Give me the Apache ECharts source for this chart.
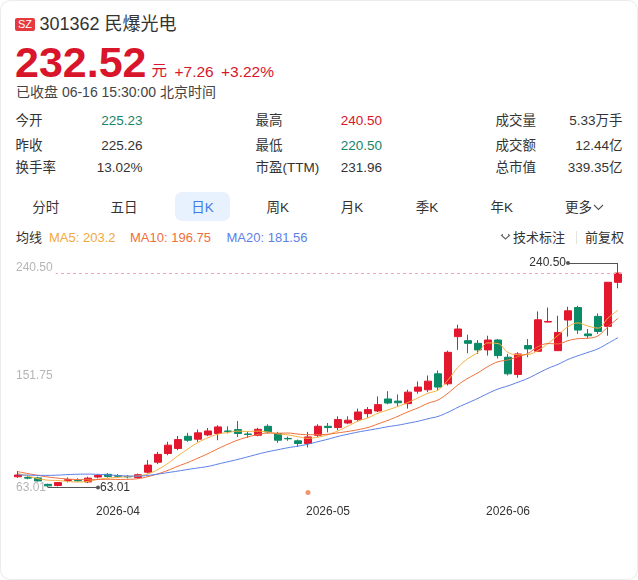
<!DOCTYPE html>
<html lang="zh-CN">
<head>
<meta charset="utf-8">
<title>301362 民爆光电 日K</title>
<script src="https://cdn.jsdelivr.net/npm/echarts@6/dist/echarts.min.js"></script>
<style>
  html, body { margin: 0; padding: 0; background: #fff; }
  body { font-family: "Liberation Sans", Arial, "Noto Sans CJK SC", sans-serif; color: #333; }
  #card { position: relative; width: 638px; height: 580px; border-radius: 10px; box-shadow: inset 0 0 0 1px #ececec; overflow: hidden; }
  .t { position: absolute; white-space: nowrap; line-height: 1; }
  .r { text-align: right; }
  .red { color: #d8152b; }
  .green { color: #17856a; }
  .tab { position: absolute; top: 200.7px; width: 77px; text-align: center; font-size: 13.5px; line-height: 1; }
  #chart { position: absolute; left: 0; top: 250px; width: 638px; height: 290px; }
</style>
</head>
<body>
<div id="card">
  <!-- 头部 -->
  <div style="position:absolute;left:15px;top:18px;width:20px;height:13px;background:#e5393f;border-radius:2px;color:#fff;font-size:11px;line-height:13px;text-align:center;">SZ</div>
  <div class="t" style="left:39.5px;top:15.3px;font-size:18px;color:#333;">301362 民爆光电</div>
  <div class="t red" style="left:15px;top:40.9px;font-size:43px;font-weight:bold;">232.52</div>
  <div class="t red" style="left:151.5px;top:63.4px;font-size:15.5px;">元</div>
  <div class="t red" style="left:174.5px;top:63.6px;font-size:15.5px;">+7.26</div>
  <div class="t red" style="left:221px;top:63.6px;font-size:15.5px;">+3.22%</div>
  <div class="t" style="left:16px;top:85.2px;font-size:14px;color:#444;">已收盘 06-16 15:30:00 北京时间</div>

  <!-- 行情表 -->
  <div class="t" style="left:15.5px;top:114.4px;font-size:13.5px;">今开</div>
  <div class="t r green" style="right:495.5px;top:114.4px;font-size:13.5px;">225.23</div>
  <div class="t" style="left:255.5px;top:114.4px;font-size:13.5px;">最高</div>
  <div class="t r red" style="right:256px;top:114.4px;font-size:13.5px;">240.50</div>
  <div class="t" style="left:495.5px;top:114.4px;font-size:13.5px;">成交量</div>
  <div class="t r" style="right:15.5px;top:114.4px;font-size:13.5px;">5.33万手</div>

  <div class="t" style="left:15.5px;top:138.9px;font-size:13.5px;">昨收</div>
  <div class="t r" style="right:495.5px;top:138.9px;font-size:13.5px;">225.26</div>
  <div class="t" style="left:255.5px;top:138.9px;font-size:13.5px;">最低</div>
  <div class="t r green" style="right:256px;top:138.9px;font-size:13.5px;">220.50</div>
  <div class="t" style="left:495.5px;top:138.9px;font-size:13.5px;">成交额</div>
  <div class="t r" style="right:15.5px;top:138.9px;font-size:13.5px;">12.44亿</div>

  <div class="t" style="left:15.5px;top:160.9px;font-size:13.5px;">换手率</div>
  <div class="t r" style="right:495.5px;top:160.9px;font-size:13.5px;">13.02%</div>
  <div class="t" style="left:255.5px;top:160.9px;font-size:13.5px;">市盈(TTM)</div>
  <div class="t r" style="right:256px;top:160.9px;font-size:13.5px;">231.96</div>
  <div class="t" style="left:495.5px;top:160.9px;font-size:13.5px;">总市值</div>
  <div class="t r" style="right:15.5px;top:160.9px;font-size:13.5px;">339.35亿</div>

  <!-- 周期切换 -->
  <div style="position:absolute;left:175px;top:192px;width:55px;height:29px;border-radius:7px;background:#e8f1fe;"></div>
  <div class="tab" style="left:7.3px;">分时</div>
  <div class="tab" style="left:85.5px;">五日</div>
  <div class="tab" style="left:164px;color:#3d7ce6;">日K</div>
  <div class="tab" style="left:239.2px;">周K</div>
  <div class="tab" style="left:313.5px;">月K</div>
  <div class="tab" style="left:388.5px;">季K</div>
  <div class="tab" style="left:463.2px;">年K</div>
  <div class="tab" style="left:546px;">更多<svg width="11" height="7" style="margin-left:1px;vertical-align:1px;"><polyline points="1,1 5.5,5.5 10,1" fill="none" stroke="#555" stroke-width="1.1"/></svg></div>

  <!-- 均线 -->
  <div class="t" style="left:16px;top:230.8px;font-size:13px;">均线</div>
  <div class="t" style="left:49px;top:230.8px;font-size:13px;color:#f2a93b;">MA5: 203.2</div>
  <div class="t" style="left:130px;top:230.8px;font-size:13px;color:#f0703a;">MA10: 196.75</div>
  <div class="t" style="left:226.5px;top:230.8px;font-size:13px;color:#5c7fe8;">MA20: 181.56</div>
  <svg style="position:absolute;left:500px;top:233px;" width="11" height="8"><polyline points="1,2 5.5,6 10,2" fill="none" stroke="#666" stroke-width="1.1"/><line x1="2.5" y1="1" x2="2.5" y2="2.5" stroke="#666"/><line x1="8.5" y1="1" x2="8.5" y2="2.5" stroke="#666"/></svg>
  <div class="t" style="left:513px;top:230.8px;font-size:13px;">技术标注</div>
  <div style="position:absolute;left:576px;top:231px;width:1px;height:13px;background:#e3e3e3;"></div>
  <div class="t" style="left:585px;top:230.8px;font-size:13px;">前复权</div>

  <div id="chart"></div>
</div>

<script>
'use strict';

// 日期
var dates = [
    '2026-03-18', '2026-03-19', '2026-03-20', '2026-03-23', '2026-03-24', '2026-03-25', '2026-03-26', '2026-03-27', '2026-03-30', '2026-03-31',
    '2026-04-01', '2026-04-02', '2026-04-03', '2026-04-07', '2026-04-08', '2026-04-09', '2026-04-10', '2026-04-13', '2026-04-14', '2026-04-15',
    '2026-04-16', '2026-04-17', '2026-04-20', '2026-04-21', '2026-04-22', '2026-04-23', '2026-04-24', '2026-04-27', '2026-04-28', '2026-04-29',
    '2026-04-30', '2026-05-06', '2026-05-07', '2026-05-08', '2026-05-11', '2026-05-12', '2026-05-13', '2026-05-14', '2026-05-15', '2026-05-18',
    '2026-05-19', '2026-05-20', '2026-05-21', '2026-05-22', '2026-05-25', '2026-05-26', '2026-05-27', '2026-05-28', '2026-05-29', '2026-06-01',
    '2026-06-02', '2026-06-03', '2026-06-04', '2026-06-05', '2026-06-08', '2026-06-09', '2026-06-10', '2026-06-11', '2026-06-12', '2026-06-15',
    '2026-06-16'
];

// K线 开/收/低/高
var openPrices = [
    71.5, 71.0, 70.6, 65.5, 64.6, 68.6, 68.7, 67.4, 71.3, 73.4,
    72.3, 71.8, 70.8, 75.1, 83.0, 89.9, 93.9, 103.5, 101.2, 104.6,
    105.7, 107.7, 108.8, 105.3, 104.3, 111.4, 105.7, 101.8, 99.9, 97.8,
    104.3, 111.4, 110.4, 114.0, 116.7, 121.4, 123.5, 133.0, 131.3, 129.3,
    139.2, 140.3, 152.9, 145.0, 182.3, 179.1, 177.0, 171.8, 179.6, 166.0,
    152.4, 175.2, 170.7, 193.8, 171.2, 195.4, 205.3, 184.4, 198.3, 190.4,
    225.23
];
var closePrices = [
    72.9, 70.4, 68.2, 64.3, 66.9, 69.2, 68.3, 70.4, 72.5, 71.8,
    71.9, 71.4, 73.1, 80.7, 89.2, 96.5, 100.9, 100.4, 106.2, 107.7,
    110.9, 107.3, 105.7, 105.0, 109.0, 107.0, 100.4, 101.5, 97.8, 103.0,
    111.4, 110.4, 116.7, 116.2, 122.7, 124.6, 128.5, 129.8, 130.0, 138.4,
    142.4, 147.1, 142.4, 169.9, 188.3, 177.0, 171.8, 179.6, 167.3, 152.9,
    168.6, 172.6, 195.6, 194.3, 185.6, 202.7, 187.5, 183.0, 186.4, 225.26,
    232.52
];
var lowPrices = [
    70.6, 69.5, 67.8, 63.01, 63.9, 67.0, 67.6, 66.5, 70.2, 70.7,
    70.5, 70.2, 70.0, 74.0, 81.5, 88.5, 92.5, 99.1, 99.1, 103.6,
    100.4, 105.7, 103.0, 102.2, 103.5, 105.7, 98.3, 99.9, 95.1, 94.7,
    103.0, 106.6, 108.3, 113.0, 115.6, 118.2, 122.7, 128.8, 127.2, 125.4,
    137.2, 138.4, 139.8, 143.7, 171.8, 169.1, 168.6, 167.3, 165.0, 151.6,
    149.8, 166.0, 170.7, 193.5, 171.2, 182.3, 184.4, 181.2, 184.4, 183.0,
    220.50
];
var highPrices = [
    76.0, 72.5, 71.5, 66.0, 67.3, 71.0, 70.3, 71.5, 73.6, 74.4,
    73.6, 72.8, 74.0, 84.7, 91.2, 99.1, 103.8, 106.2, 108.8, 110.1,
    112.2, 111.4, 115.6, 107.0, 110.2, 113.0, 107.0, 103.3, 100.9, 107.0,
    113.0, 114.0, 119.3, 119.3, 125.4, 126.6, 135.0, 139.2, 136.6, 140.3,
    146.8, 151.6, 155.5, 171.2, 191.7, 183.8, 179.6, 183.0, 180.4, 168.6,
    169.9, 180.4, 202.2, 205.3, 198.8, 205.9, 206.7, 188.3, 200.6, 225.5,
    240.50
];

// 均线
var ma5 = [
    74.0, 72.0, 70.0, 68.8, 68.54, 67.80, 67.38, 67.82, 69.46, 70.44,
    70.98, 71.60, 72.14, 73.78, 77.26, 82.18, 88.08, 93.54, 98.64, 102.34,
    105.22, 106.50, 107.56, 107.32, 107.58, 106.80, 105.42, 104.58, 103.14, 101.94,
    102.82, 104.82, 107.86, 111.54, 115.48, 118.12, 121.74, 124.36, 127.12, 130.26,
    133.82, 137.54, 140.06, 148.04, 158.02, 164.94, 169.88, 177.32, 176.80, 169.72,
    168.04, 168.20, 171.40, 176.80, 183.34, 190.16, 193.14, 190.62, 189.04, 196.97,
    203.20
];
var ma10 = [
    75.5, 74.0, 72.6, 71.3, 70.4, 69.7, 69.3, 69.2, 69.3, 69.49,
    69.39, 69.49, 69.98, 71.62, 73.85, 76.58, 79.84, 82.84, 86.21, 89.80,
    93.70, 97.29, 100.55, 102.98, 104.96, 106.01, 105.96, 106.07, 105.23, 104.76,
    104.81, 105.12, 106.22, 107.34, 108.71, 110.47, 113.28, 116.11, 119.33, 122.87,
    125.97, 129.64, 132.21, 137.58, 144.14, 149.38, 153.71, 158.69, 162.42, 163.87,
    166.49, 169.04, 174.36, 176.80, 176.53, 179.10, 180.67, 181.01, 182.92, 190.16,
    196.75
];
var ma20 = [
    73.0, 72.8, 72.6, 72.6, 72.8, 73.2, 73.5, 73.6, 73.4, 73.0,
    72.5, 72.1, 72.0, 72.6, 73.6, 74.8, 76.0, 77.3, 78.5, 79.65,
    81.55, 83.39, 85.27, 87.30, 89.41, 91.30, 92.90, 94.46, 95.72, 97.28,
    99.26, 101.21, 103.39, 105.16, 106.84, 108.24, 109.62, 111.09, 112.28, 113.82,
    115.39, 117.38, 119.22, 122.46, 126.43, 129.93, 133.50, 137.40, 140.88, 143.37,
    146.23, 149.34, 153.29, 157.19, 160.34, 164.24, 167.19, 169.85, 172.67, 177.01,
    181.56
];

// 坐标轴刻度
var yTickLabels = ['63.01', '151.75', '240.50'];
var priceMin = 63.01;
var priceMax = 240.50;
var lastClose = 232.52;

// 事件标记日期
var eventDates = ['2026-04-29'];

var upColor = '#e3172d';
var downColor = '#0b8a68';

var kData = [];
for (var i = 0; i < dates.length; i++) {
    kData.push([openPrices[i], closePrices[i], lowPrices[i], highPrices[i]]);
}

// 最高最低点位置
var maxIndex = highPrices.indexOf(priceMax);
var minIndex = lowPrices.indexOf(priceMin);

var chart = echarts.init(document.getElementById('chart'));

var option = {
    animation: false,
    grid: { left: 13, right: 15, top: 12, bottom: 52.5 },
    xAxis: {
        type: 'category',
        data: dates,
        boundaryGap: true,
        axisLine: { show: false },
        axisTick: { show: false },
        splitLine: { show: false },
        axisLabel: {
            color: '#333',
            fontSize: 12,
            margin: 18,
            interval: function(index, value) {
                return index > 0 && value.slice(0, 7) !== dates[index - 1].slice(0, 7);
            },
            formatter: function(value) {
                return value.slice(0, 7);
            }
        }
    },
    yAxis: [{
        type: 'value',
        min: priceMin,
        max: priceMax,
        show: false,
        splitLine: { show: false }
    }, {
        // 只用来放三个刻度文字
        type: 'value',
        min: 0,
        max: yTickLabels.length - 1,
        interval: 1,
        position: 'left',
        z: 10,
        axisLine: { show: false },
        axisTick: { show: false },
        splitLine: { show: false },
        axisLabel: {
            inside: true,
            margin: 0,
            color: '#b5b5b5',
            fontSize: 12,
            formatter: function(v) {
                var s = yTickLabels[v];
                return v === yTickLabels.length - 1 ? '{top|' + s + '}' : '{n|' + s + '}';
            },
            rich: {
                top: { color: '#b5b5b5', fontSize: 12, padding: [12, 3, 2, 3], backgroundColor: '#fff' },
                n: { color: '#b5b5b5', fontSize: 12, padding: [0, 3, 0, 3] }
            }
        }
    }],
    series: [{
        type: 'candlestick',
        data: kData,
        barWidth: 7,
        itemStyle: {
            color: upColor,
            color0: downColor,
            borderColor: upColor,
            borderColor0: downColor,
            borderWidth: 1
        },
        markLine: {
            silent: true,
            symbol: ['none', 'circle'],
            symbolSize: 4,
            lineStyle: { color: '#555', width: 1, type: 'solid' },
            label: { show: true, position: 'end', color: '#333', fontSize: 12, distance: 2 },
            data: [
                [
                    { coord: [dates[maxIndex], priceMax] },
                    { coord: [dates[maxIndex - 5], priceMax], label: { formatter: priceMax.toFixed(2) } }
                ],
                [
                    { coord: [dates[minIndex], priceMin] },
                    { coord: [dates[minIndex + 5], priceMin], label: { formatter: priceMin.toFixed(2) } }
                ]
            ]
        }
    }, {
        name: 'MA5',
        type: 'line',
        data: ma5,
        smooth: 0.4,
        showSymbol: false,
        lineStyle: { color: '#f5b03e', width: 1 }
    }, {
        name: 'MA10',
        type: 'line',
        data: ma10,
        smooth: 0.4,
        showSymbol: false,
        lineStyle: { color: '#f0703a', width: 1 }
    }, {
        name: 'MA20',
        type: 'line',
        data: ma20,
        smooth: 0.4,
        showSymbol: false,
        lineStyle: { color: '#5c7fe8', width: 1 },
        markLine: {
            silent: true,
            symbol: ['none', 'none'],
            label: { show: false },
            lineStyle: { color: '#f2a6b6', type: [3, 3], width: 1 },
            data: [{ yAxis: lastClose }]
        }
    }, {
        type: 'scatter',
        clip: false,
        symbolSize: 5,
        itemStyle: { color: '#f07b4b' },
        data: eventDates.map(function(d) {
            return [d, priceMin - 4];
        })
    }]
};

chart.setOption(option);
</script>
</body>
</html>
